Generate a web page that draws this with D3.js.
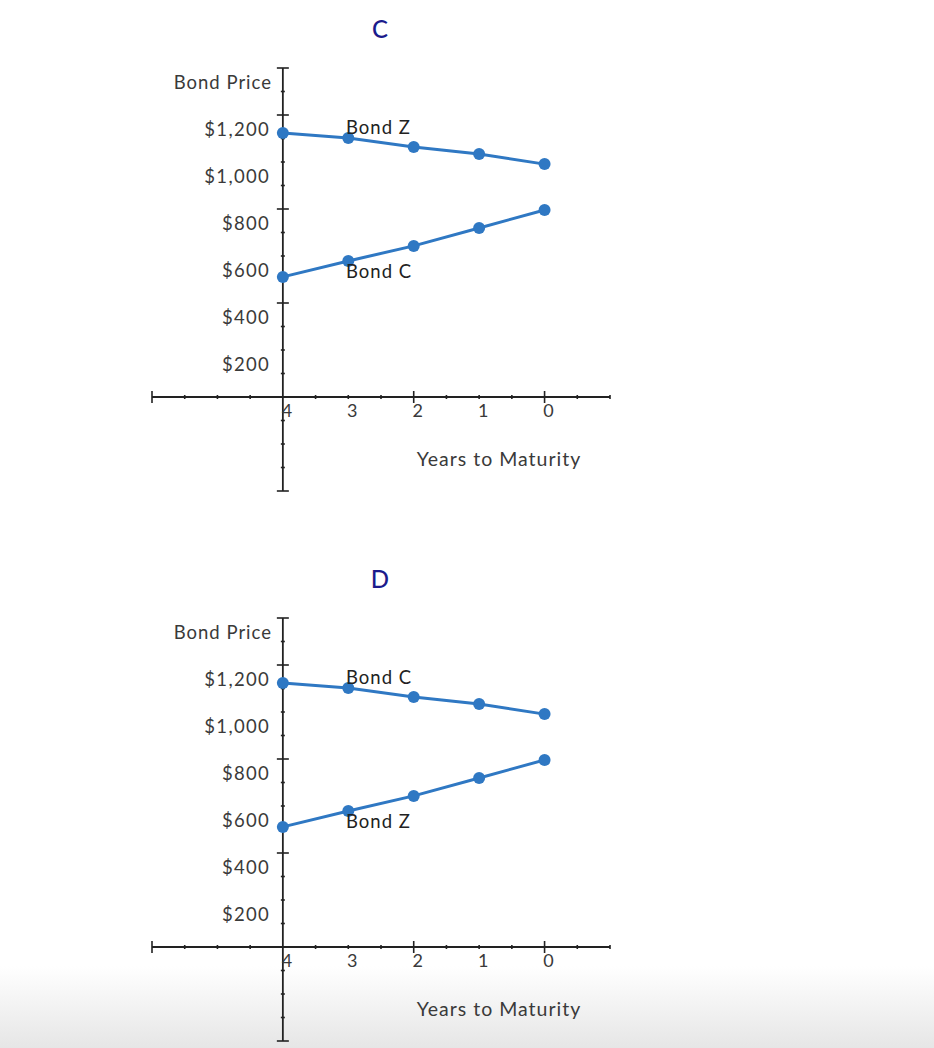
<!DOCTYPE html>
<html>
<head>
<meta charset="utf-8">
<script src="https://cdn.jsdelivr.net/npm/d3@7"></script>
<style>
  html, body { margin: 0; padding: 0; background: #ffffff; }
  svg { display: block; }
  text { font-family: Lato, "Open Sans", sans-serif; }
</style>
</head>
<body>
<svg id="chart" width="934" height="1048"></svg>
<script>
// ---- data ----
const panelTitles = ["C", "D"];
const upperNames = ["Bond Z", "Bond C"];
const lowerNames = ["Bond C", "Bond Z"];
const yearsToMaturity = [4, 3, 2, 1, 0];
const premiumPrices = [1123, 1102, 1064, 1034, 991];
const discountPrices = [511, 579, 643, 719, 796];
const priceTickValues = [1200, 1000, 800, 600, 400, 200];
const priceTickLabels = ["$1,200", "$1,000", "$800", "$600", "$400", "$200"];
const yearTickValues = [4, 3, 2, 1, 0];
const yearTickLabels = ["4", "3", "2", "1", "0"];

// ---- layout ----
const svg = d3.select("#chart");
const W = 934, H = 1048;

const grad = svg.append("defs").append("linearGradient")
  .attr("id", "bottomFade").attr("x1", 0).attr("y1", 0).attr("x2", 0).attr("y2", 1);
grad.append("stop").attr("offset", "0%").attr("stop-color", "#ffffff");
grad.append("stop").attr("offset", "100%").attr("stop-color", "#e6e6e6");
svg.append("rect").attr("x", 0).attr("y", 966).attr("width", W).attr("height", H - 966)
  .attr("fill", "url(#bottomFade)");

const lineColor = "#2f78c3";
const axisColor = "#222";
const textColor = "#3a3a3a";

const x = d3.scaleLinear().domain([6, -1]).range([152, 610]);

function drawPanel(i, offsetY) {
  const g = svg.append("g").attr("transform", `translate(0,${offsetY})`);
  const y = d3.scaleLinear().domain([0, 1200]).range([397, 115]);
  const yMin = -400, yMax = 1400;

  // title
  g.append("text").attr("x", 380).attr("y", 32)
    .attr("text-anchor", "middle").attr("dominant-baseline", "middle")
    .attr("font-size", 24).attr("font-weight", 500).attr("fill", "#1b1b8c").text(panelTitles[i]);

  // axes lines
  const ax = g.append("g").attr("stroke", axisColor).attr("fill", "none");
  ax.append("line").attr("x1", x(6)).attr("x2", x(-1)).attr("y1", y(0)).attr("y2", y(0)).attr("stroke-width", 1.8);
  ax.append("line").attr("x1", x(4)).attr("x2", x(4)).attr("y1", y(yMax)).attr("y2", y(yMin)).attr("stroke-width", 1.8);

  // x ticks every 0.5
  const xt = d3.range(-1, 6.01, 0.5);
  xt.forEach(v => {
    if (Math.abs(v - 4) < 1e-6) return;
    let len = 2;
    if (Math.abs(v - 6) < 1e-6) len = 6;
    else if (Math.abs(v % 2) < 1e-6) len = 6;
    ax.append("line").attr("x1", x(v)).attr("x2", x(v))
      .attr("y1", y(0) - len).attr("y2", y(0) + len).attr("stroke-width", 1.6);
  });
  // y ticks every 100
  const yt = d3.range(yMin, yMax + 1, 100);
  yt.forEach(v => {
    if (v === 0) return;
    let len = 2;
    if (v === yMax || v === yMin) len = 6;
    else if (v % 400 === 0) len = 6;
    ax.append("line").attr("x1", x(4) - len).attr("x2", x(4) + len)
      .attr("y1", y(v)).attr("y2", y(v)).attr("stroke-width", 1.6);
  });

  // y labels
  g.append("g").selectAll("text").data(priceTickValues).join("text")
    .attr("x", 270).attr("y", d => y(d) + 16)
    .attr("text-anchor", "end").attr("dominant-baseline", "middle")
    .attr("font-size", 18.5).attr("letter-spacing", 1.3).attr("fill", textColor)
    .text((d, k) => priceTickLabels[k]);
  g.append("text").attr("x", 272).attr("y", 84)
    .attr("text-anchor", "end").attr("dominant-baseline", "middle")
    .attr("font-size", 18.5).attr("letter-spacing", 1).attr("fill", textColor).text("Bond Price");

  // x labels
  g.append("g").selectAll("text").data(yearTickValues).join("text")
    .attr("x", d => x(d) + 4).attr("y", 412)
    .attr("text-anchor", "middle").attr("dominant-baseline", "middle")
    .attr("font-size", 18).attr("fill", textColor)
    .text((d, k) => yearTickLabels[k]);
  g.append("text").attr("x", 499).attr("y", 461)
    .attr("text-anchor", "middle").attr("dominant-baseline", "middle")
    .attr("font-size", 19.5).attr("letter-spacing", 1).attr("fill", textColor).text("Years to Maturity");

  // series
  const line = d3.line().x(d => x(d[0])).y(d => y(d[1]));
  [premiumPrices, discountPrices].forEach(series => {
    const pts = yearsToMaturity.map((t, k) => [t, series[k]]);
    g.append("path").datum(pts).attr("d", line)
      .attr("fill", "none").attr("stroke", lineColor).attr("stroke-width", 3);
    g.append("g").selectAll("circle").data(pts).join("circle")
      .attr("cx", d => x(d[0])).attr("cy", d => y(d[1])).attr("r", 6)
      .attr("fill", lineColor);
  });

  // bond labels
  g.append("text").attr("x", 346).attr("y", 129)
    .attr("dominant-baseline", "middle").attr("font-size", 18.5).attr("letter-spacing", 1).attr("fill", "#222")
    .text(upperNames[i]);
  g.append("text").attr("x", 346).attr("y", 273)
    .attr("dominant-baseline", "middle").attr("font-size", 18.5).attr("letter-spacing", 1).attr("fill", "#222")
    .text(lowerNames[i]);
}

drawPanel(0, 0);
drawPanel(1, 550);
</script>
</body>
</html>
